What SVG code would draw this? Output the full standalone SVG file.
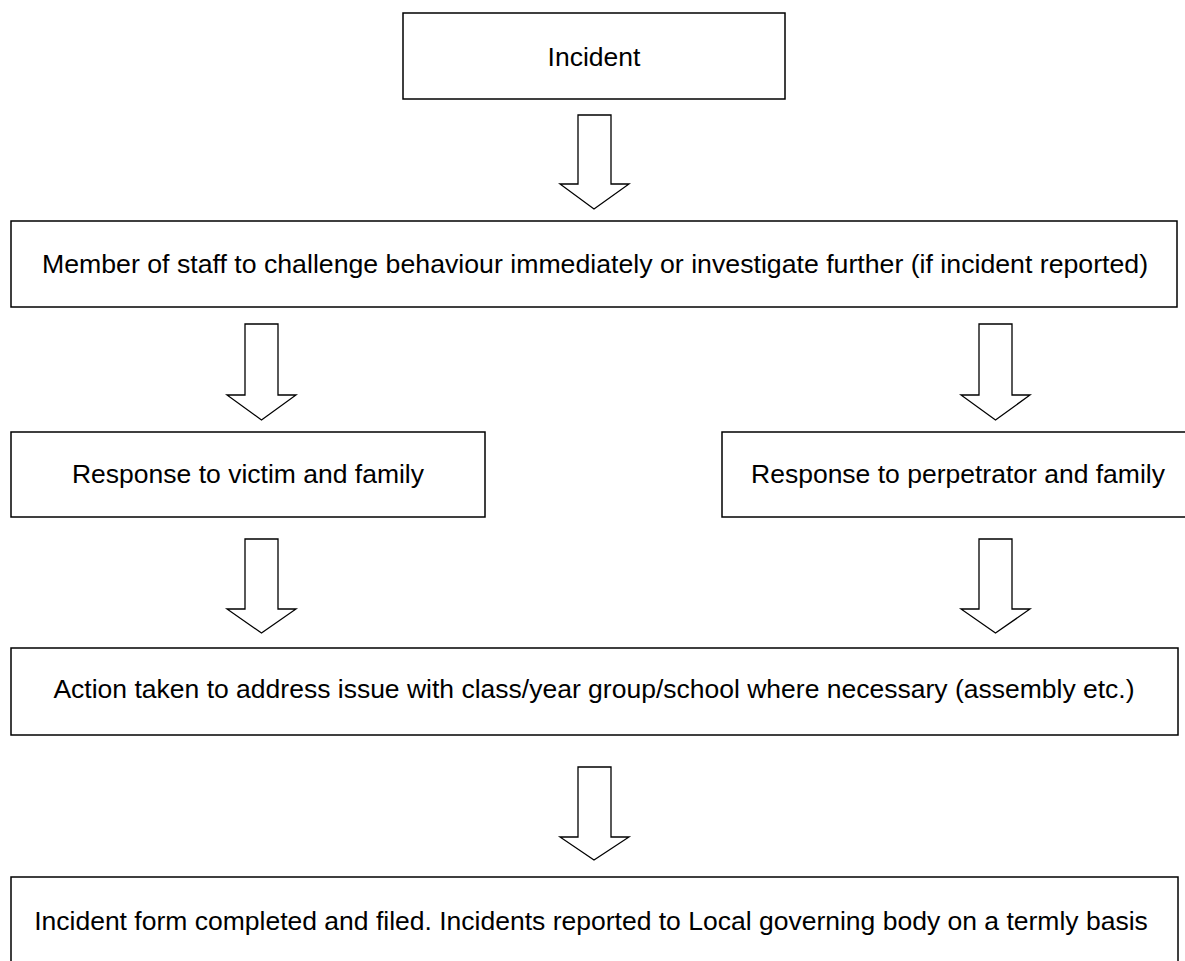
<svg xmlns="http://www.w3.org/2000/svg" width="1185" height="961" viewBox="0 0 1185 961">
<style>
.box{fill:#fff;stroke:#000;stroke-width:1.5}
.arr{fill:#fff;stroke:#000;stroke-width:1.3;stroke-linejoin:miter}
.t{font-family:"Liberation Sans",Arial,sans-serif;font-size:26.5px;fill:#000;text-anchor:middle}
</style>
<rect width="1185" height="961" fill="#fff"/>
<g id="connectors">
<polygon class="arr" points="578,115 611,115 611,184 629,184 594,209 560,184 578,184"/>
<polygon class="arr" points="245,324 278,324 278,395 296,395 261.5,420 227,395 245,395"/>
<polygon class="arr" points="979,324 1012,324 1012,395 1030,395 995.5,420 961,395 979,395"/>
<polygon class="arr" points="245,539 278,539 278,609 296,609 261.5,633 227,609 245,609"/>
<polygon class="arr" points="979,539 1012,539 1012,609 1030,609 995.5,633 961,609 979,609"/>
<polygon class="arr" points="578,767 611,767 611,837 629,837 594,860 560,837 578,837"/>
</g>
<g id="incident">
<rect class="box" x="403" y="13" width="382" height="86"/>
<text class="t" x="594" y="66">Incident</text>
</g>
<g id="staff">
<rect class="box" x="11" y="221" width="1166" height="86"/>
<text class="t" x="595" y="273" style="font-size:26.7px">Member of staff to challenge behaviour immediately or investigate further (if incident reported)</text>
</g>
<g id="victim">
<rect class="box" x="11" y="432" width="474" height="85"/>
<text class="t" x="248" y="483">Response to victim and family</text>
</g>
<g id="perpetrator">
<rect class="box" x="722" y="432" width="472" height="85"/>
<text class="t" x="958" y="483">Response to perpetrator and family</text>
</g>
<g id="action">
<rect class="box" x="11" y="648" width="1167" height="87"/>
<text class="t" x="594" y="698">Action taken to address issue with class/year group/school where necessary (assembly etc.)</text>
</g>
<g id="form">
<rect class="box" x="11" y="877" width="1167" height="90"/>
<text class="t" x="591" y="930">Incident form completed and filed. Incidents reported to Local governing body on a termly basis</text>
</g>
</svg>
